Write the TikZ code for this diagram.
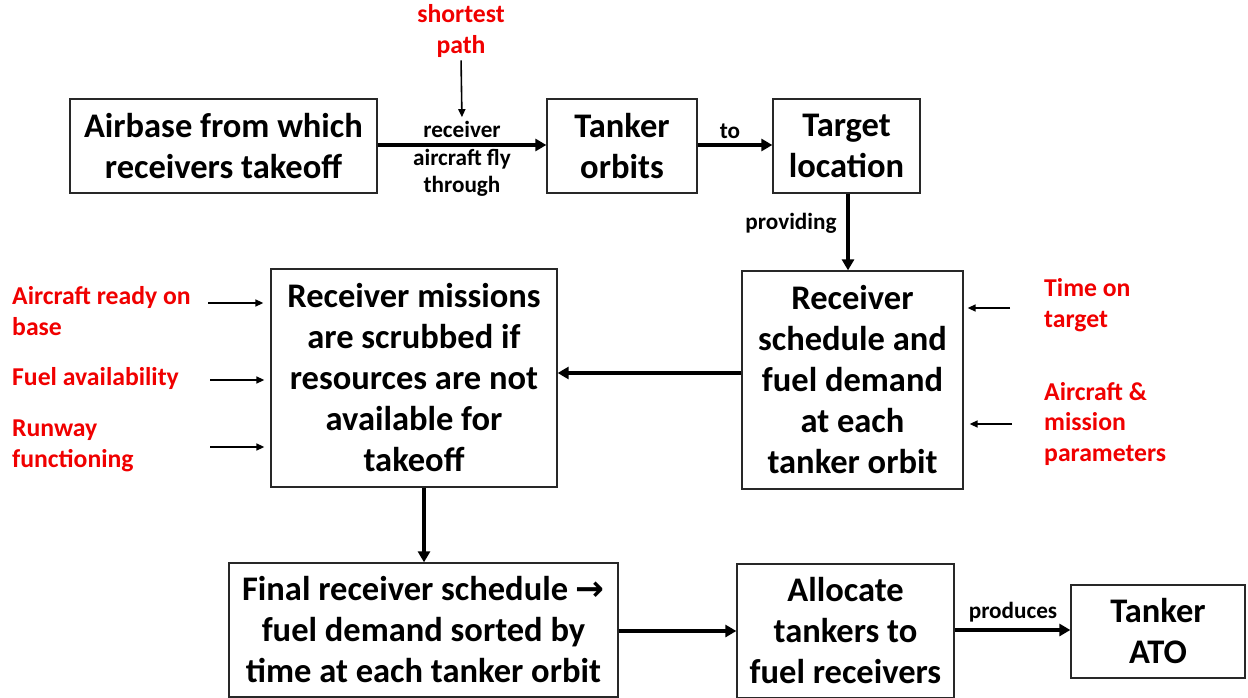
\documentclass[tikz,border=0pt]{standalone}
\usepackage{fontspec}
\setmainfont{Carlito}
\newfontfamily\symfont{DejaVu Sans}
\usetikzlibrary{arrows.meta}
\definecolor{redlab}{RGB}{240,0,0}
\definecolor{boxline}{RGB}{40,40,40}
\tikzset{
  box/.style={draw=boxline, line width=1.3pt, inner sep=0pt, align=center,
    font=\fontsize{34.5}{41}\selectfont\bfseries},
  lab/.style={inner sep=0pt, align=center, font=\fontsize{23.2}{27.5}\selectfont\bfseries},
  redtxt/.style={inner sep=0pt, align=left, text=redlab, font=\fontsize{25.7}{30.5}\selectfont\bfseries},
  bigarrow/.style={line width=3.6pt, -{Triangle[length=11pt,width=12pt]}},
  smallarrow/.style={line width=1.6pt, -{Triangle[length=8pt,width=7pt]}},
}
\begin{document}
\begin{tikzpicture}[x=1pt,y=-1pt]
\useasboundingbox (0,0) rectangle (1248,698);
% boxes
\node[box, minimum width=307pt, minimum height=94pt] (air) at (223.5,146) {Airbase from which\\receivers takeoff};
\node[box, minimum width=150pt, minimum height=94pt] (tank) at (622,146) {Tanker\\orbits};
\node[box, minimum width=147pt, minimum height=94pt] (targ) at (846.5,146) {Target\\location};
\node[box, minimum width=221pt, minimum height=218pt] (rs) at (852.5,380) {Receiver\\schedule and\\fuel demand\\at each\\tanker orbit};
\node[box, minimum width=286pt, minimum height=218pt] (rm) at (414,378) {Receiver missions\\are scrubbed if\\resources are not\\available for\\takeoff};
\node[box, minimum width=389pt, minimum height=134pt] (fin) at (423.5,630) {Final receiver schedule {\symfont\bfseries\char"2192}\\fuel demand sorted by\\time at each tanker orbit};
\node[box, minimum width=217pt, minimum height=134pt] (alloc) at (845.5,631) {Allocate\\tankers to\\fuel receivers};
\node[box, minimum width=174pt, minimum height=93pt] (ato) at (1158,631.5) {Tanker\\ATO};
% labels
\node[redtxt, align=center] (sp) at (461,31) {shortest\\path};
\node[lab] (recv) at (462,159) {receiver\\aircraft fly\\through};
\node[lab] (to) at (730,131) {to};
\node[lab] (prov) at (791,223) {providing};
\node[lab] (prod) at (1013,612) {produces};
\node[redtxt, anchor=west] (acr) at (12,311) {Aircraft ready on\\base};
\node[redtxt, anchor=west] (fuel) at (12,379) {Fuel availability};
\node[redtxt, anchor=west] (rwy) at (12,446) {Runway\\functioning};
\node[redtxt, anchor=west] (tot) at (1044,305) {Time on\\target};
\node[redtxt, anchor=west] (amp) at (1044,424) {Aircraft \&\\mission\\parameters};
% input arrow start points
\coordinate (a1) at (208,303);
\coordinate (a2) at (210,380);
\coordinate (a3) at (210,447);
\coordinate (a4) at (1010,308);
\coordinate (a5) at (1012,424);
% main connectors
\draw[bigarrow] (air.east |- 0,145) -- (tank.west |- 0,145);
\draw[bigarrow] (tank.east |- 0,145) -- (targ.west |- 0,145);
\draw[bigarrow] (targ.south -| 848,0) -- (rs.north -| 848,0);
\draw[bigarrow] (rs.west |- 0,373) -- (rm.east |- 0,373);
\draw[bigarrow] (rm.south -| 424,0) -- (fin.north -| 424,0);
\draw[bigarrow] (fin.east |- 0,631) -- (alloc.west |- 0,631);
\draw[bigarrow] (alloc.east |- 0,630) -- (ato.west |- 0,630);
\draw[smallarrow, shorten <=3pt, shorten >=4pt] (sp.south) -- (recv.north);
% side inputs
\draw[smallarrow, shorten >=7pt] (a1) -- (rm.west |- a1);
\draw[smallarrow, shorten >=6pt] (a2) -- (rm.west |- a2);
\draw[smallarrow, shorten >=6pt] (a3) -- (rm.west |- a3);
\draw[smallarrow, shorten >=4pt] (a4) -- (rs.east |- a4);
\draw[smallarrow, shorten >=6pt] (a5) -- (rs.east |- a5);
\end{tikzpicture}
\end{document}
